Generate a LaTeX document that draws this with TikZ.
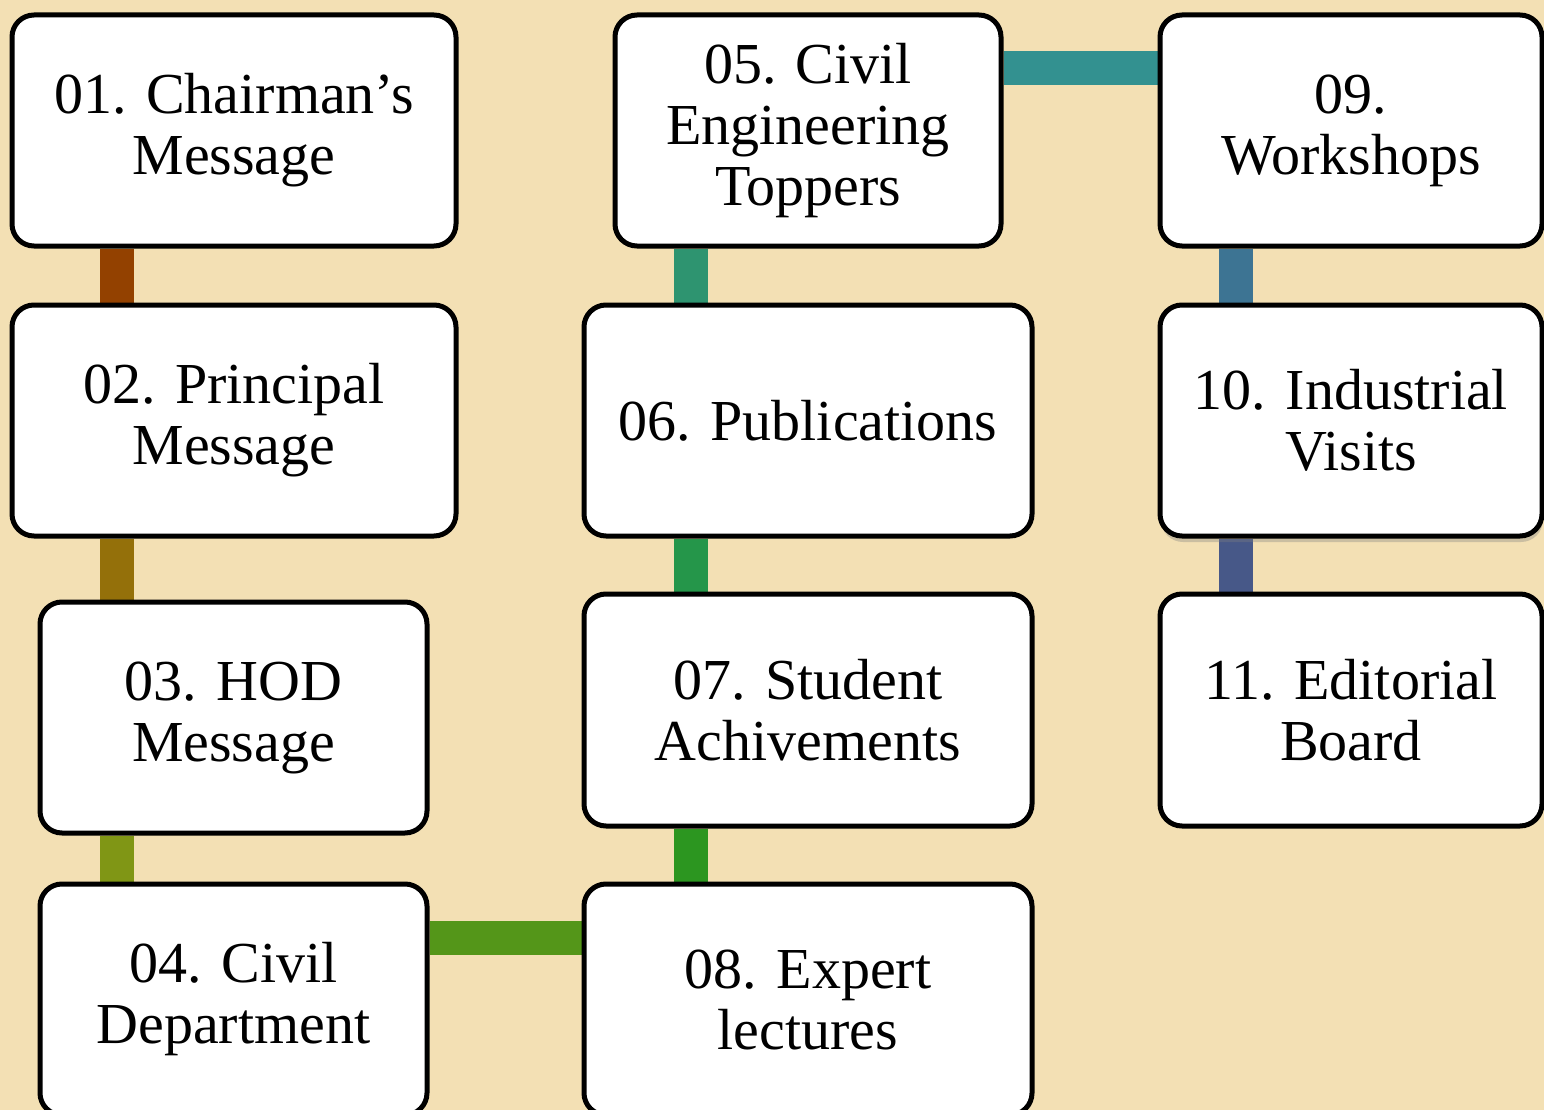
\documentclass[tikz,border=0pt]{standalone}
\usepackage{fontspec}
\setmainfont{Liberation Serif}
\usetikzlibrary{backgrounds,shadows}

\definecolor{paper}{HTML}{F3E0B4}
\definecolor{cA}{HTML}{934100}
\definecolor{cB}{HTML}{94700A}
\definecolor{cC}{HTML}{809615}
\definecolor{cD}{HTML}{549619}
\definecolor{cE}{HTML}{2E9470}
\definecolor{cF}{HTML}{25964A}
\definecolor{cG}{HTML}{2C9620}
\definecolor{cH}{HTML}{339190}
\definecolor{cI}{HTML}{3D7493}
\definecolor{cJ}{HTML}{475888}

\begin{document}
\begin{tikzpicture}[x=1pt,y=-1pt,
  item/.style={draw=black,line width=5pt,fill=white,rounded corners=22pt,
    minimum height=231pt,inner sep=0pt,align=center,
    font=\fontsize{58}{61}\selectfont},
  link/.style={line width=34pt}]
% Page
\useasboundingbox (0,0) rectangle (1544,1110);

% Boxes, column by column
\node[item,minimum width=444pt] (n01) at (234,130.5) {01. Chairman’s\\Message};
\node[item,minimum width=444pt] (n02) at (234,420.5) {02. Principal\\Message};
\node[item,minimum width=387pt] (n03) at (233.5,717.5) {03. HOD\\Message};
\node[item,minimum width=387pt] (n04) at (233.5,999.5) {04. Civil\\Department};

\node[item,minimum width=386pt] (n05) at (808,130.5) {05. Civil\\Engineering\\Toppers};
\node[item,minimum width=448pt] (n06) at (808,420.5) {06. Publications};
\node[item,minimum width=448pt,minimum height=232pt] (n07) at (808,710) {07. Student\\Achivements};
\node[item,minimum width=448pt] (n08) at (808,999.5) {08. Expert\\lectures};

\node[item,minimum width=382pt] (n09) at (1351,130.5) {09.\\Workshops};
\node[item,minimum width=382pt,drop shadow={shadow xshift=1pt,shadow yshift=-6pt,opacity=0.35}] (n10) at (1351,420.5) {10. Industrial\\Visits};
\node[item,minimum width=382pt,minimum height=232pt] (n11) at (1351,710) {11. Editorial\\Board};

% Background and connectors
\begin{scope}[on background layer]
\fill[paper] (0,0) rectangle (1544,1110);
\draw[link,cA] ([xshift=107pt]n01.south west) -- ([xshift=107pt]n02.north west);
\draw[link,cB] ([xshift=107pt]n02.south west) -- ([xshift=107pt]n02.south west |- n03.north);
\draw[link,cC] ([xshift=79pt]n03.south west) -- ([xshift=79pt]n04.north west);
\draw[link,cD] ([yshift=-56pt]n04.north east) -- ([yshift=-56pt]n04.north east -| n08.west);
\draw[link,cE] ([xshift=78.5pt]n05.south west) -- ([xshift=78.5pt]n05.south west |- n06.north);
\draw[link,cF] ([xshift=109.5pt]n06.south west) -- ([xshift=109.5pt]n07.north west);
\draw[link,cG] ([xshift=109.5pt]n07.south west) -- ([xshift=109.5pt]n08.north west);
\draw[link,cH] ([yshift=-56pt]n05.north east) -- ([yshift=-56pt]n05.north east -| n09.west);
\draw[link,cI] ([xshift=78pt]n09.south west) -- ([xshift=78pt]n10.north west);
\draw[link,cJ] ([xshift=78pt]n10.south west) -- ([xshift=78pt]n11.north west);
\end{scope}
\end{tikzpicture}
\end{document}
